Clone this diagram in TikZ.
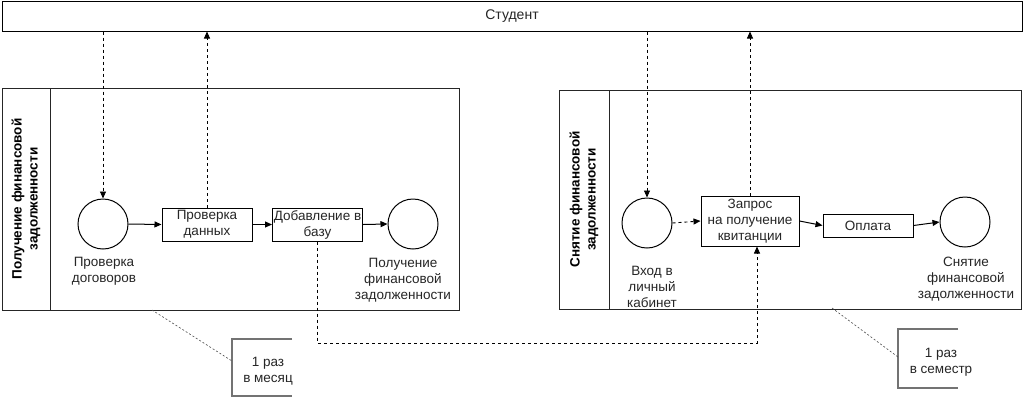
\documentclass[tikz,border=0pt]{standalone}
\usepackage{fontspec}
\setmainfont{Liberation Sans}
\usetikzlibrary{arrows.meta,calc}
\begin{document}
\begin{tikzpicture}[x=1pt,y=-1pt,
  every node/.style={font=\fontsize{13.5}{16}\selectfont, inner sep=0pt, align=center, text=black!85},
  boxst/.style={draw=black, line width=1pt, rectangle},
  poolst/.style={draw=black!85, line width=1pt, rectangle},
  ev/.style={draw=black, line width=1pt, circle, minimum size=50pt},
  act/.style={draw=black, line width=1pt, rectangle, minimum width=90pt, minimum height=33pt},
  flow/.style={draw=black, line width=1pt, -{Triangle[length=7pt,width=6pt]}},
  msg/.style={draw=black, line width=0.9pt, dash pattern=on 3pt off 3pt, -{Triangle[length=7pt,width=6pt]}},
  assoc/.style={draw=black!70, line width=0.6pt, dash pattern=on 2pt off 2pt},
  brk/.style={draw=black!55, line width=1.2pt},
  hdr/.style={font=\fontsize{13.5}{16}\selectfont\bfseries, rotate=90, text=black}
]
\useasboundingbox (0,0) rectangle (1027,400);
\fill[white] (0,0) rectangle (1027,400);

% Student
\node[boxst, minimum width=1020pt, minimum height=30pt] (student) at (512,16) {};
\node[font=\fontsize{14}{16}\selectfont] (studtxt) at (512,16.5) {Студент};

% Left pool
\node[poolst, minimum width=457pt, minimum height=222pt] (pool1) at (230.5,199) {};
\draw[black!85, line width=1pt] (50,88) coordinate (d1a) -- (50,310) coordinate (d1b);
\node[hdr] (h1) at (26,199) {Получение финансовой\\задолженности};

\node[ev] (c1) at (103,224) {};
\node[act] (b1) at (207,224.5) {Проверка\\данных};
\node[act] (b2) at (317.5,224.5) {Добавление в\\базу};
\node[ev] (c2) at (413,224) {};
\node (l1) at (104,271) {Проверка\\договоров};
\node (l2) at (403,280) {Получение\\финансовой\\задолженности};

% Right pool
\node[poolst, minimum width=462pt, minimum height=219pt] (pool2) at (790,199.5) {};
\draw[black!85, line width=1pt] (609,90) coordinate (d2a) -- (609,309) coordinate (d2b);
\node[hdr] (h2) at (584,199.5) {Снятие финансовой\\задолженности};

\node[ev] (c3) at (647,223) {};
\node[act, minimum width=98pt, minimum height=50pt] (b3) at (750,221) {Запрос\\на получение\\квитанции};
\node[act, minimum height=23pt] (b4) at (868,225.5) {Оплата};
\node[ev] (c4) at (965,222) {};
\node (l3) at (652,287) {Вход в\\личный\\кабинет};
\node (l4) at (966,279) {Снятие\\финансовой\\задолженности};

% flows
\draw[flow] (c1.east) -- (b1.west);
\draw[flow] (b1.east) -- (b2.west);
\draw[flow] (b2.east) -- (c2.west);
\draw[msg] (c3.east) -- (b3.west);
\draw[flow] (b3.east) -- (b4.west);
\draw[flow] (b4.east) -- (c4.west);

% message flows with Student
\draw[msg] (c1.north |- student.south) -- (c1.north);
\draw[msg] (b1.north) -- (b1.north |- student.south);
\draw[msg] (c3.north |- student.south) -- (c3.north);
\draw[msg] (b3.north) -- (b3.north |- student.south);

% cross-pool message
\coordinate (k) at (757,343);
\draw[msg] (b2.south) |- (k) -- (k |- b3.south);

% annotations
\draw[brk] (292,339) -- (232,339) -- (232,396) -- (292,396);
\node (a1) at (268,371) {1 раз\\в месяц};
\coordinate (a1p) at (152,310);
\draw[assoc] (a1p) -- (232,361);

\draw[brk] (958,329) -- (898,329) -- (898,388) -- (958,388);
\node (a2) at (941,362) {1 раз\\в семестр};
\coordinate (a2p) at (832,308);
\draw[assoc] (a2p) -- (898,357);
\end{tikzpicture}
\end{document}
